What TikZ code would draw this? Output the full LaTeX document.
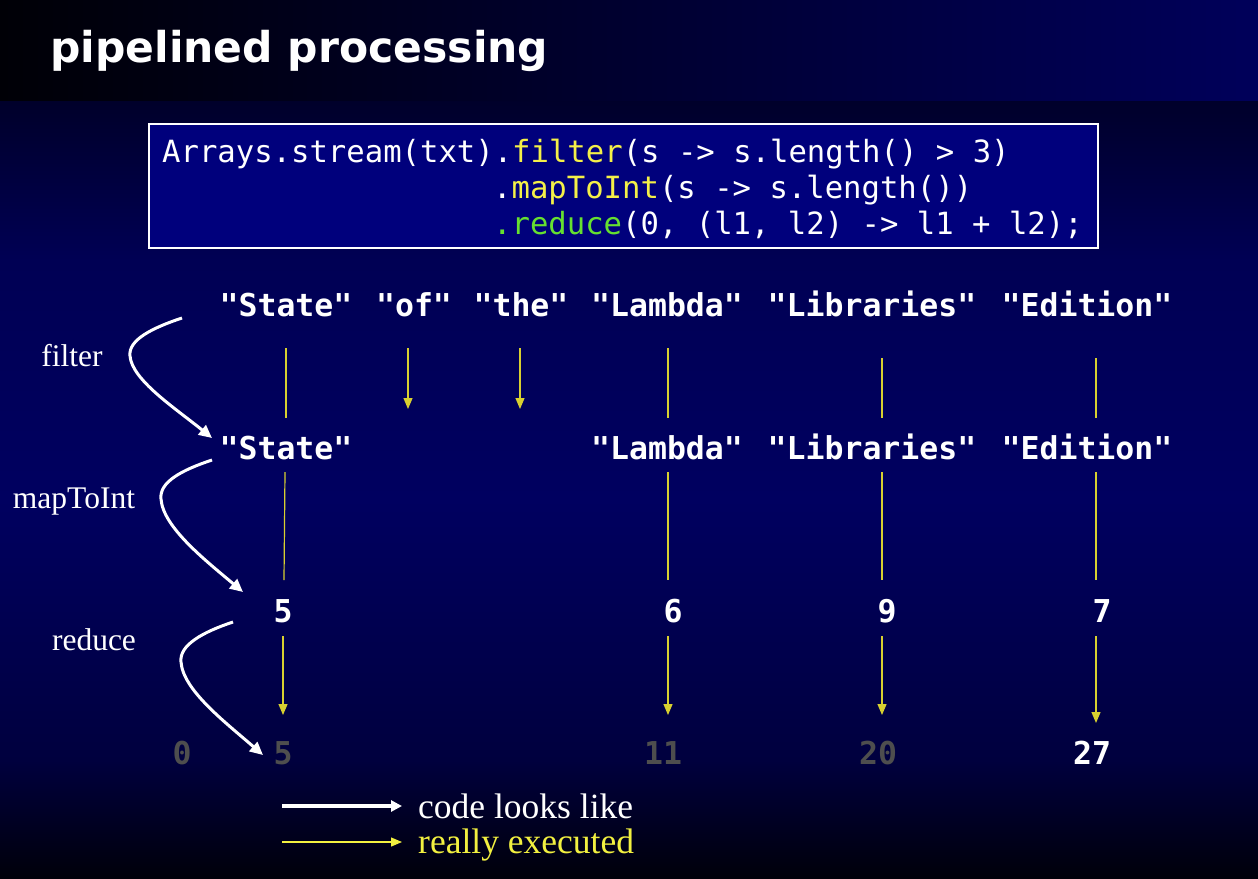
\documentclass[tikz,border=0pt]{standalone}
\usepackage{fontspec}
\setmainfont{Liberation Serif}
\newfontfamily\titlefont{DejaVu Sans}
\newfontfamily\codefont{DejaVu Sans Mono}
\usetikzlibrary{arrows.meta}
\definecolor{barleft}{HTML}{000006}
\definecolor{barright}{HTML}{00005A}
\definecolor{bgtop}{HTML}{00002A}
\definecolor{bgupper}{HTML}{000054}
\definecolor{bgmid}{HTML}{000060}
\definecolor{bglower}{HTML}{00003E}
\definecolor{bgbot}{HTML}{00000A}
\definecolor{boxfill}{HTML}{00007C}
\definecolor{codeyellow}{HTML}{F4F048}
\definecolor{codegreen}{HTML}{66E030}
\definecolor{lineyellow}{HTML}{D8D030}
\definecolor{dimgray}{HTML}{4E4E4E}
\definecolor{legendyellow}{HTML}{F2F040}
\tikzset{
  txt/.style={inner sep=0pt, anchor=base},
  word/.style={txt, text=white, font=\codefont\bfseries\fontsize{31.5}{36}\selectfont},
  dimnum/.style={word, text=dimgray},
  codeline/.style={inner sep=0pt, anchor=base west, text=white, font=\codefont\fontsize{30.6}{36}\selectfont},
  oplabel/.style={txt, text=white, font=\fontsize{31.5}{36}\selectfont},
  legendtext/.style={inner sep=0pt, anchor=base west, font=\fontsize{35.5}{40}\selectfont},
  yline/.style={draw=lineyellow, line width=1.2pt},
  yarrow/.style={yline, -{Triangle[width=9pt,length=11pt]}},
  warrow/.style={draw=white, line width=3pt, -{Triangle[width=12pt,length=13pt]}}
}
\begin{document}
\begin{tikzpicture}[x=1pt,y=-1pt]
\useasboundingbox (0,0) rectangle (1258,878);
% backgrounds
\shade[top color=bgtop, bottom color=bgupper] (0,100) rectangle (1258,260.5);
\shade[top color=bgupper, bottom color=bgmid] (0,260) rectangle (1258,500.5);
\shade[top color=bgmid, bottom color=bglower] (0,500) rectangle (1258,760.5);
\shade[top color=bglower, bottom color=bgbot] (0,760) rectangle (1258,878);
\shade[left color=barleft, right color=barright] (0,0) rectangle (1258,100);
% title
\node[inner sep=0pt, anchor=base west, text=white, font=\titlefont\bfseries\fontsize{42.5}{50}\selectfont] (title) at (50,62) {pipelined processing};
% code box
\node[draw=white, line width=1.5pt, fill=boxfill, minimum width=949pt, minimum height=124pt, inner sep=0pt, anchor=north west] (codebox) at (148,123) {};
\node[codeline] (code1) at (162,162) {Arrays.stream(txt).\textcolor{codeyellow}{filter}(s -> s.length() > 3)};
\node[codeline] (code2) at (493,198) {.\textcolor{codeyellow}{mapToInt}(s -> s.length())};
\node[codeline] (code3) at (493,234) {\textcolor{codegreen}{.reduce}(0, (l1, l2) -> l1 + l2);};
% row 1
\node[word] (a1) at (286,316) {"State"};
\node[word] (a2) at (414,316) {"of"};
\node[word] (a3) at (521,316) {"the"};
\node[word] (a4) at (667,316) {"Lambda"};
\node[word] (a5) at (872,316) {"Libraries"};
\node[word] (a6) at (1087,316) {"Edition"};
% row 2
\node[word] (b1) at (286,459) {"State"};
\node[word] (b4) at (667,459) {"Lambda"};
\node[word] (b5) at (872,459) {"Libraries"};
\node[word] (b6) at (1087,459) {"Edition"};
% row 3
\node[word] (c1) at (283,622) {5};
\node[word] (c4) at (673,622) {6};
\node[word] (c5) at (887,622) {9};
\node[word] (c6) at (1102,622) {7};
% row 4
\node[dimnum] (d0) at (182,764) {0};
\node[dimnum] (d1) at (283,764) {5};
\node[dimnum] (d4) at (663,764) {11};
\node[dimnum] (d5) at (878,764) {20};
\node[word] (d6) at (1092,764) {27};
% labels
\node[oplabel] (lfilter) at (72,366) {filter};
\node[oplabel] (lmap) at (74,508) {mapToInt};
\node[oplabel] (lreduce) at (94,650) {reduce};
% yellow line end points
\coordinate (p1t) at (286,348); \coordinate (p1b) at (286,418);
\coordinate (p2t) at (408,348); \coordinate (p2b) at (408,409);
\coordinate (p3t) at (520,348); \coordinate (p3b) at (520,409);
\coordinate (p4t) at (668,348); \coordinate (p4b) at (668,418);
\coordinate (p5t) at (882,358); \coordinate (p5b) at (882,418);
\coordinate (p6t) at (1096,358); \coordinate (p6b) at (1096,418);
\coordinate (q1t) at (285,472); \coordinate (q1b) at (284,580);
\coordinate (q4t) at (668,472); \coordinate (q4b) at (668,580);
\coordinate (q5t) at (882,472); \coordinate (q5b) at (882,580);
\coordinate (q6t) at (1096,472); \coordinate (q6b) at (1096,580);
\coordinate (r1t) at (283,636); \coordinate (r1b) at (283,715);
\coordinate (r4t) at (668,636); \coordinate (r4b) at (668,715);
\coordinate (r5t) at (882,636); \coordinate (r5b) at (882,715);
\coordinate (r6t) at (1096,636); \coordinate (r6b) at (1096,723);
% yellow lines
\draw[yline] (p1t) -- (p1b);
\draw[yarrow] (p2t) -- (p2b);
\draw[yarrow] (p3t) -- (p3b);
\draw[yline] (p4t) -- (p4b);
\draw[yline] (p5t) -- (p5b);
\draw[yline] (p6t) -- (p6b);
\draw[yline] (q1t) -- (q1b);
\draw[yline] (q4t) -- (q4b);
\draw[yline] (q5t) -- (q5b);
\draw[yline] (q6t) -- (q6b);
\draw[yarrow] (r1t) -- (r1b);
\draw[yarrow] (r4t) -- (r4b);
\draw[yarrow] (r5t) -- (r5b);
\draw[yarrow] (r6t) -- (r6b);
% white curved arrows
\coordinate (fs) at (182,318); \coordinate (fm) at (130,356); \coordinate (fe) at (212,438);
\coordinate (ms) at (212,460); \coordinate (mm) at (161,499); \coordinate (me) at (243,592);
\coordinate (rs) at (233,622); \coordinate (rm) at (181,662); \coordinate (re) at (263,755);
\draw[warrow] (fs) .. controls (152,328) and (128,340) .. (fm) .. controls (132,380) and (175,408) .. (fe);
\draw[warrow] (ms) .. controls (182,470) and (159,482) .. (mm) .. controls (163,527) and (205,560) .. (me);
\draw[warrow] (rs) .. controls (203,632) and (179,645) .. (rm) .. controls (183,690) and (225,722) .. (re);
% legend
\coordinate (lw1) at (282,806); \coordinate (lw2) at (402,806);
\coordinate (ly1) at (282,842); \coordinate (ly2) at (402,842);
\draw[draw=white, line width=3.5pt, -{Triangle[width=11pt,length=11pt]}] (lw1) -- (lw2);
\draw[yline, draw=legendyellow, -{Triangle[width=9pt,length=11pt]}] (ly1) -- (ly2);
\node[legendtext, text=white] (leg1) at (418,818) {code looks like};
\node[legendtext, text=legendyellow] (leg2) at (418,853) {really executed};
\end{tikzpicture}
\end{document}
